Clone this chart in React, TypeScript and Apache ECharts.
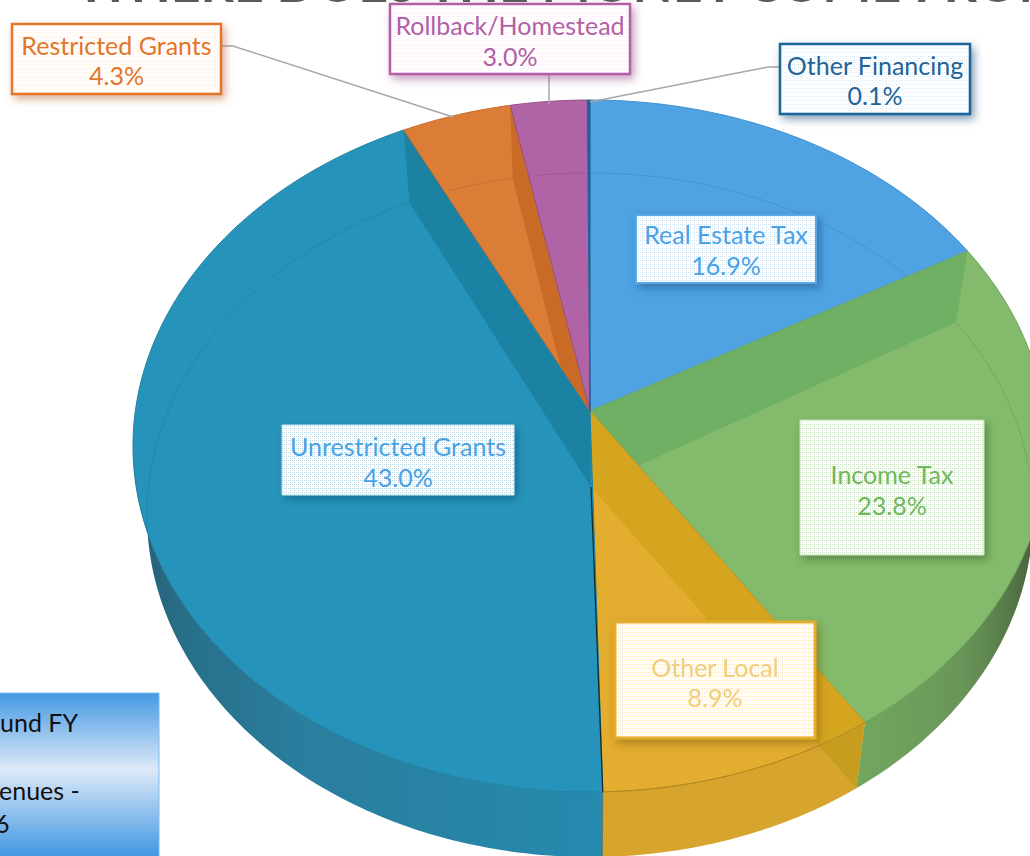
import React, { useEffect, useRef } from "react";
import * as echarts from "echarts";

const categories = ["Real Estate Tax", "Income Tax", "Other Local", "Unrestricted Grants", "Restricted Grants", "Rollback/Homestead", "Other Financing"];
const shares = [16.9, 23.8, 8.9, 43.0, 4.3, 3.0, 0.1];
const titleText = "WHERE DOES THE MONEY COME FROM";
const noteLines = ["und FY", "enues -", "6"];

const faceColors = ["#4FA3E3", "#83BA6B", "#E3AD2F", "#2694BA", "#DB7C37", "#B064A6", "#1F6399"];
const bandColors = ["#4FA3E3", "#6FB064", "#D6A51F", "#1C82A4", "#C96A27", "#B064A6", "#1F6399"];
const edgeColors = ["#3F8FCF", "#6BA257", "#B58A20", "#2080A0", "#C56C2C", "#93508B", "#1F6399"];
const wallBandColors = ["", "", "#C79D20", "", "", "", ""];
const wallStops: [number, string][][] = [
  [[0, "#4FA3E3"], [1, "#4FA3E3"]],
  [[0, "#72A75F"], [0.55, "#6A9659"], [0.8, "#567A48"], [0.95, "#465E3A"], [1, "#33492B"]],
  [[0, "#D7A52E"], [1, "#D7A52E"]],
  [[0, "#285E75"], [0.12, "#27708A"], [0.35, "#2A7D9D"], [1, "#258AAE"]],
  [[0, "#DB7C37"], [1, "#DB7C37"]],
  [[0, "#B064A6"], [1, "#B064A6"]],
  [[0, "#1F6399"], [1, "#1F6399"]],
];

// geometry of the tilted disc
const TOP = { cx: 590, cy: 446, rx: 457, ry: 346 };
const BASE = { cx: 590, cy: 515, rx: 443, ry: 342 };
const APEX: P = [590, 411];
const APEX_DOWN: P = [591, 487];
const TILT = 0.9;

type P = [number, number];
const rimPhi = (frac: number) => {
  const t = frac * Math.PI;
  return 2 * Math.atan2(TILT * Math.sin(t), Math.cos(t));
};
const onE = (e: typeof TOP, phi: number): P => [e.cx + e.rx * Math.sin(phi), e.cy - e.ry * Math.cos(phi)];
const sample = (e: typeof TOP, a: number, b: number): P[] => {
  const n = Math.max(2, Math.ceil(Math.abs(b - a) / (Math.PI / 180)));
  const out: P[] = [];
  for (let i = 0; i <= n; i++) out.push(onE(e, a + ((b - a) * i) / n));
  return out;
};
const cross = (o: P, a: P, b: P) => (a[0] - o[0]) * (b[1] - o[1]) - (a[1] - o[1]) * (b[0] - o[0]);
const clipHalf = (poly: P[], s: (p: P) => number): P[] => {
  const out: P[] = [];
  for (let i = 0; i < poly.length; i++) {
    const a = poly[i], b = poly[(i + 1) % poly.length];
    const sa = s(a), sb = s(b);
    if (sa >= -0.001) out.push(a);
    if ((sa > 0.001 && sb < -0.001) || (sa < -0.001 && sb > 0.001)) {
      const t = sa / (sa - sb);
      out.push([a[0] + (b[0] - a[0]) * t, a[1] + (b[1] - a[1]) * t]);
    }
  }
  return out;
};
const bounds = () => {
  const total = shares.reduce((a, b) => a + b, 0);
  let run = 0;
  return shares.map((v) => {
    const from = rimPhi(run / total);
    run += v;
    return { from, to: rimPhi(run / total) };
  });
};

const labelLayouts = [
  { x: 636, y: 215, w: 180, h: 68, l1: 234, l2: 265, text: "#4AA2E4", border: "#5AA9E6", bw: 2, dot: "rgba(79,163,227,.3)", shadow: "rgba(20,70,120,.5)", leader: null },
  { x: 800, y: 420, w: 184, h: 135, l1: 474, l2: 505, text: "#70B75C", border: "#C4E2B8", bw: 1, dot: "rgba(112,183,92,.42)", shadow: "rgba(40,80,30,.45)", leader: null },
  { x: 615, y: 622, w: 200, h: 116, l1: 667, l2: 697, text: "#F0CE7C", border: "#E3AD2F", bw: 3, dot: "rgba(227,173,47,.3)", shadow: "rgba(110,80,10,.45)", leader: null },
  { x: 282, y: 425, w: 232, h: 70, l1: 446, l2: 477, text: "#4AA2E4", border: "#BFE0F0", bw: 1, dot: "rgba(60,150,190,.36)", shadow: "rgba(10,60,90,.4)", leader: null },
  { x: 12, y: 24, w: 209, h: 70, l1: 45, l2: 75, text: "#E2762B", border: "#E2762B", bw: 2.5, dot: "rgba(226,118,43,.12)", shadow: "rgba(190,110,60,.55)", leader: [[222, 46], [233, 46], [453, 117]] },
  { x: 390, y: 4, w: 240, h: 70, l1: 25, l2: 56, text: "#B25FA5", border: "#B25FA5", bw: 2.5, dot: "rgba(178,95,165,.12)", shadow: "rgba(150,80,140,.55)", leader: [[549, 74], [549, 104]] },
  { x: 780, y: 44, w: 190, h: 70, l1: 65, l2: 95, text: "#1F6399", border: "#1F6399", bw: 2.5, dot: "rgba(31,99,153,.14)", shadow: "rgba(30,80,120,.55)", leader: [[780, 67], [768, 67], [590, 102]] },
];

const dotPattern = (color: string) => {
  const c = document.createElement("canvas");
  c.width = 4;
  c.height = 4;
  const g = c.getContext("2d")!;
  g.fillStyle = "#fff";
  g.fillRect(0, 0, 4, 4);
  g.fillStyle = color;
  g.fillRect(0, 0, 1, 1);
  g.fillRect(2, 2, 1, 1);
  g.fillRect(2, 0, 1, 1);
  return { image: c, repeat: "repeat" };
};

const FONT = "Lato";

export default function App() {
  const ref = useRef<HTMLDivElement>(null);
  useEffect(() => {
    document.body.style.margin = "0";
    document.body.style.overflow = "hidden";
    const chart = echarts.init(ref.current!, undefined, { renderer: "svg" });
    const span = bounds();
    const data = shares.map((v, i) => ({ name: categories[i], value: [i, v] }));
    const patterns = labelLayouts.map((l) => dotPattern(l.dot));

    const renderWall = (params: any) => {
      const i = params.dataIndex;
      const a = Math.max(span[i].from, Math.PI / 2);
      const b = Math.min(span[i].to, (3 * Math.PI) / 2);
      if (b <= a) return { type: "group", children: [] };
      const pts = [...sample(TOP, a, b), ...sample(BASE, b, a)];
      return {
        type: "polygon",
        shape: { points: pts },
        style: {
          fill: new echarts.graphic.LinearGradient(0, 0, 1, 0, wallStops[i].map(([offset, color]) => ({ offset, color }))),
          stroke: null,
        },
      };
    };

    const renderFace = (params: any) => {
      const i = params.dataIndex;
      const { from, to } = span[i];
      const rs = onE(TOP, from), re = onE(TOP, to);
      const inWedge = (p: P) => cross(APEX, rs, p) >= -0.001 && cross(APEX, p, re) >= -0.001;
      const children: any[] = [
        {
          type: "polygon",
          shape: { points: [APEX, ...sample(TOP, from, to)] },
          style: { fill: faceColors[i], stroke: edgeColors[i], lineWidth: 1 },
        },
      ];
      // inner wall seen through the top
      const wallPhi = (from + to) / 2 < Math.PI ? from : to;
      const downPt = onE(BASE, wallPhi);
      let band: P[] = [APEX, onE(TOP, wallPhi), downPt, APEX_DOWN];
      band = clipHalf(band, (p) => cross(APEX, rs, p));
      band = clipHalf(band, (p) => cross(APEX, p, re));
      if (band.length > 2) {
        children.push({ type: "polygon", shape: { points: band }, style: { fill: bandColors[i], stroke: null } });
      }
      // the part of that wall that shows below the front rim
      if (wallBandColors[i]) {
        const tri: P[] = [downPt];
        for (const p of sample(TOP, from, to)) {
          if (cross(APEX_DOWN, downPt, p) > 0) break;
          tri.push(p);
        }
        if (tri.length > 2) {
          children.push({ type: "polygon", shape: { points: tri }, style: { fill: wallBandColors[i], stroke: null } });
        }
        children.push({ type: "polyline", shape: { points: sample(TOP, from, to) }, style: { stroke: edgeColors[i], lineWidth: 1, fill: null } });
      }
      // far rim seen through the top
      const lo = -Math.PI * 0.52, hi = Math.PI * 0.46;
      const rim: P[] = [];
      const steps = Math.ceil((to - from) / (Math.PI / 180));
      for (let s = 0; s <= steps; s++) {
        const ph = from + ((to - from) * s) / steps;
        const norm = ph > Math.PI ? ph - 2 * Math.PI : ph;
        if (norm < lo || norm > hi) continue;
        const p = onE(BASE, ph);
        if (inWedge(p)) rim.push(p);
      }
      if (rim.length > 1) {
        children.push({ type: "polyline", shape: { points: rim }, style: { stroke: "rgba(0,0,0,.1)", lineWidth: 1, fill: null } });
      }
      // dark seam where the front of the disc splits
      if (Math.abs(from - Math.PI) < 0.1) {
        children.push({ type: "line", shape: { x1: APEX_DOWN[0], y1: APEX_DOWN[1], x2: rs[0], y2: rs[1] }, style: { stroke: "rgba(15,15,10,.8)", lineWidth: 1.2 } });
        const down = onE(BASE, from);
        children.push({ type: "line", shape: { x1: rs[0], y1: rs[1], x2: down[0], y2: down[1] }, style: { stroke: "rgba(40,40,20,.4)", lineWidth: 1 } });
      }
      return { type: "group", children };
    };

    const renderLabel = (params: any, api: any) => {
      const i = params.dataIndex;
      const l = labelLayouts[i];
      const cx = l.x + l.w / 2;
      const children: any[] = [];
      if (l.leader) {
        children.push({ type: "polyline", shape: { points: l.leader }, style: { stroke: "#A6A6A6", lineWidth: 1.5, fill: null } });
      }
      children.push({
        type: "rect",
        shape: { x: l.x, y: l.y, width: l.w, height: l.h },
        style: { fill: patterns[i], stroke: l.border, lineWidth: l.bw, shadowBlur: 8, shadowOffsetX: 3, shadowOffsetY: 4, shadowColor: l.shadow },
      });
      const common = { fill: l.text, fontFamily: FONT, fontSize: 25, align: "center", verticalAlign: "middle" };
      children.push({ type: "text", style: { ...common, text: categories[i], x: cx, y: l.l1 } });
      children.push({ type: "text", style: { ...common, text: `${Number(api.value(1)).toFixed(1)}%`, x: cx, y: l.l2 } });
      return { type: "group", children };
    };

    chart.setOption({
      animation: false,
      backgroundColor: "#fff",
      graphic: [
        {
          type: "text",
          z: 0,
          x: 76,
          y: 8,
          style: { text: titleText, fill: "#595959", fontFamily: FONT, fontWeight: "bold", fontSize: 52, align: "left", verticalAlign: "bottom" },
        },
        {
          type: "rect",
          z: 5,
          shape: { x: -4, y: 693, width: 163, height: 170 },
          style: {
            fill: new echarts.graphic.LinearGradient(0, 0, 0, 1, [
              { offset: 0, color: "#4499E3" },
              { offset: 0.45, color: "#DDE9F8" },
              { offset: 0.95, color: "#4499E3" },
              { offset: 1, color: "#4499E3" },
            ]),
            stroke: "#7DBBEE",
            lineWidth: 1,
          },
        },
        ...noteLines.map((t, i) => ({
          type: "text",
          z: 6,
          x: [0, -1, -5][i],
          y: [722, 790, 823][i],
          style: { text: t, fill: "#111", fontFamily: FONT, fontSize: 25, align: "left", verticalAlign: "middle" },
        })),
      ],
      series: [
        { type: "custom", coordinateSystem: "none", z: 2, silent: true, data, renderItem: renderWall },
        { type: "custom", coordinateSystem: "none", z: 3, silent: true, data, renderItem: renderFace },
        { type: "custom", coordinateSystem: "none", z: 4, silent: true, data, renderItem: renderLabel },
      ],
    });
    return () => chart.dispose();
  }, []);
  return <div ref={ref} style={{ position: "absolute", left: 0, top: 0, width: 1030, height: 856 }} />;
}
